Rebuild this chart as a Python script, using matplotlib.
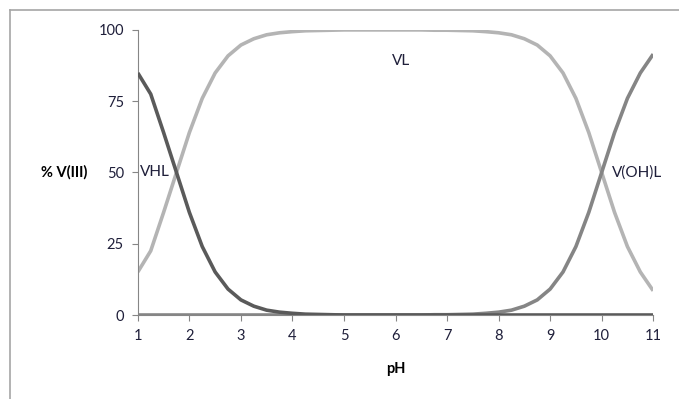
import matplotlib
matplotlib.use("Agg")
import matplotlib.pyplot as plt
from matplotlib.lines import Line2D

# pH grid and species distribution (% of V(III))
ph = [1.0, 1.25, 1.5, 1.75, 2.0, 2.25, 2.5, 2.75, 3.0, 3.25, 3.5, 3.75, 4.0,
      4.25, 4.5, 4.75, 5.0, 5.25, 5.5, 5.75, 6.0, 6.25, 6.5, 6.75, 7.0, 7.25,
      7.5, 7.75, 8.0, 8.25, 8.5, 8.75, 9.0, 9.25, 9.5, 9.75, 10.0, 10.25,
      10.5, 10.75, 11.0]

vhl = [84.9, 77.5, 64.0, 50.0, 36.0, 24.0, 15.1, 9.1, 5.3, 3.1, 1.7, 1.0,
       0.6, 0.3, 0.2, 0.1, 0, 0, 0, 0, 0, 0, 0, 0, 0, 0,
       0, 0, 0, 0, 0, 0, 0, 0, 0, 0, 0, 0, 0, 0, 0]

voh = [0, 0, 0, 0, 0, 0, 0, 0, 0, 0, 0, 0, 0, 0, 0, 0, 0, 0, 0, 0, 0, 0, 0,
       0.1, 0.1, 0.2, 0.3, 0.6, 1.0, 1.7, 3.1, 5.3, 9.1, 15.1, 24.0, 36.0,
       50.0, 64.0, 76.0, 84.9, 91.5]

vl = [15.1, 22.5, 36.0, 50.0, 64.0, 76.0, 84.9, 90.9, 94.7, 96.9, 98.3, 99.0,
      99.4, 99.7, 99.8, 99.9, 100, 100, 100, 100, 100, 100, 100, 99.9, 99.9,
      99.8, 99.7, 99.4, 99.0, 98.3, 96.9, 94.7, 90.9, 84.9, 76.0, 64.0, 50.0,
      36.0, 24.0, 15.1, 8.5]

x_ticks = [1, 2, 3, 4, 5, 6, 7, 8, 9, 10, 11]
y_ticks = [0, 25, 50, 75, 100]

plt.rcParams["font.family"] = ["Lato", "DejaVu Sans"]

fig = plt.figure(figsize=(6.79, 3.99), dpi=100)
ax = fig.add_axes([0.203, 0.2105, 0.759, 0.7145])

ax.plot(ph, vl, color="#b4b4b4", linewidth=2.6, solid_capstyle="butt", zorder=2)
ax.plot(ph, voh, color="#858585", linewidth=2.6, solid_capstyle="butt", zorder=3)
ax.plot(ph, vhl, color="#5a5a5a", linewidth=2.6, solid_capstyle="butt", zorder=4)

ax.set_xlim(1, 11)
ax.set_ylim(0, 100)
ax.set_xticks(x_ticks)
ax.set_yticks(y_ticks)
ax.tick_params(direction="out", length=4, width=0.8, color="#868686",
               labelsize=10.5, labelcolor="#1f1f3a")
ax.tick_params(axis="x", pad=6)
ax.tick_params(axis="y", pad=6)

for s in ["top", "right"]:
    ax.spines[s].set_visible(False)
for s in ["left", "bottom"]:
    ax.spines[s].set_color("#868686")
    ax.spines[s].set_linewidth(0.8)

ax.set_xlabel("pH", fontsize=10.5, fontweight="bold", labelpad=14)
ax.set_ylabel("% V(III)", fontsize=10.5, fontweight="bold", rotation=0,
              ha="right", va="center")
ax.yaxis.set_label_coords(-0.098, 0.5)

ax.text(6.1, 89, "VL", fontsize=11, color="#1f1f3a", ha="center", va="center")
ax.text(1.05, 50, "VHL", fontsize=11, color="#1f1f3a", ha="left", va="center")
ax.text(10.2, 50, "V(OH)L", fontsize=11, color="#1f1f3a", ha="left", va="center")

# chart area border (clipped by the picture on the right and bottom)
fig.add_artist(Line2D([9.5 / 679, 9.5 / 679], [0, 1 - 10 / 399],
                      transform=fig.transFigure, color="#a6a6a6", linewidth=1.2))
fig.add_artist(Line2D([9.5 / 679, 1], [1 - 10 / 399, 1 - 10 / 399],
                      transform=fig.transFigure, color="#a6a6a6", linewidth=1.2))

fig.savefig("out.png", dpi=100)
